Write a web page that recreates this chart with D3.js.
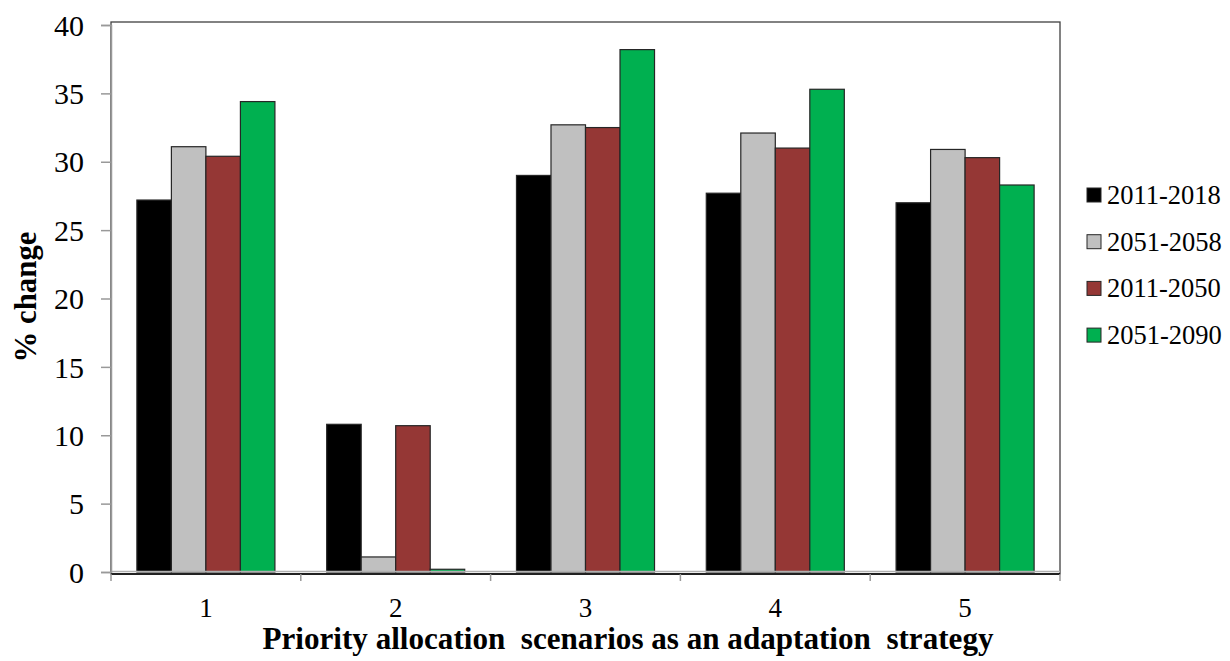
<!DOCTYPE html>
<html>
<head>
<meta charset="utf-8">
<script src="https://cdn.jsdelivr.net/npm/d3@7/dist/d3.min.js"></script>
<style>
  html, body { margin: 0; padding: 0; background: #fff; }
</style>
</head>
<body>
<svg id="chart" width="1230" height="661" font-family="'Liberation Serif', 'Times New Roman', Tinos, serif"></svg>
<script>
const SERIF = "'Liberation Serif', 'Times New Roman', Tinos, serif";

// Scenario categories and the four simulation periods
const categories = ["1", "2", "3", "4", "5"];
const periods = ["2011-2018", "2051-2058", "2011-2050", "2051-2090"];
const periodColors = ["#000000", "#c0c0c0", "#953735", "#00b050"];

// % change per scenario, one array per period
const values2011_2018 = [27.2, 10.8, 29.0, 27.7, 27.0];
const values2051_2058 = [31.1, 1.1, 32.7, 32.1, 30.9];
const values2011_2050 = [30.4, 10.7, 32.5, 31.0, 30.3];
const values2051_2090 = [34.4, 0.2, 38.2, 35.3, 28.3];
const seriesValues = [values2011_2018, values2051_2058, values2011_2050, values2051_2090];

const yTicks = [0, 5, 10, 15, 20, 25, 30, 35, 40];

const svg = d3.select("#chart");
const plot = { left: 111, right: 1060, top: 22, bottom: 574 };

const x0 = d3.scaleBand().domain(categories).range([plot.left, plot.right]).paddingInner(0).paddingOuter(0);
const x1 = d3.scaleBand().domain(periods).range([0, x0.bandwidth()]).paddingOuter(0.75).paddingInner(0);
const y = d3.scaleLinear().domain([0, 40]).range([572, 25]);

// plot frame
svg.append("rect")
  .attr("x", plot.left).attr("y", plot.top)
  .attr("width", plot.right - plot.left).attr("height", plot.bottom - plot.top)
  .attr("fill", "none").attr("stroke", "#404040").attr("stroke-width", 1.3);

// bars
const groups = svg.append("g").selectAll("g")
  .data(categories)
  .join("g")
  .attr("transform", d => `translate(${x0(d)},0)`);

groups.selectAll("rect")
  .data((c, i) => periods.map((p, k) => ({ period: p, k, value: seriesValues[k][i] })))
  .join("rect")
  .attr("x", d => x1(d.period))
  .attr("width", x1.bandwidth())
  .attr("y", d => y(d.value))
  .attr("height", d => Math.max(1.5, y(0) - y(d.value)))
  .attr("fill", d => periodColors[d.k])
  .attr("stroke", "#262626")
  .attr("stroke-width", 1.2);

// light baseline at zero and the category axis just beneath it
svg.append("line")
  .attr("x1", plot.left).attr("x2", plot.right)
  .attr("y1", y(0) - 0.5).attr("y2", y(0) - 0.5)
  .attr("stroke", "#b0b0b0").attr("stroke-width", 1.5);
svg.append("line")
  .attr("x1", plot.left).attr("x2", plot.right)
  .attr("y1", plot.bottom).attr("y2", plot.bottom)
  .attr("stroke", "#000").attr("stroke-width", 1.6);

// y axis
const yAxis = d3.axisLeft(y).tickValues(yTicks).tickSize(10).tickPadding(17).tickFormat(d3.format("d"));
const gy = svg.append("g").attr("transform", `translate(${plot.left},0)`).call(yAxis);
gy.attr("font-family", SERIF).attr("font-size", 30);
gy.select(".domain").attr("stroke", "#999").attr("stroke-width", 1.5);
gy.selectAll(".tick line").attr("stroke", "#999").attr("stroke-width", 1.5);
gy.selectAll(".tick text")
  .style("font-family", SERIF).style("font-size", "30px").attr("fill", "#000")
  .attr("dy", "0.34em");

// x axis: ticks on category boundaries, labels centred in each band
const boundaries = categories.map(c => x0(c)).concat([plot.right]);
svg.append("g").selectAll("line")
  .data(boundaries)
  .join("line")
  .attr("x1", d => d).attr("x2", d => d)
  .attr("y1", plot.bottom).attr("y2", plot.bottom + 7)
  .attr("stroke", "#999").attr("stroke-width", 1.5);
svg.append("g").selectAll("text")
  .data(categories)
  .join("text")
  .attr("x", d => x0(d) + x0.bandwidth() / 2)
  .attr("y", 617)
  .attr("text-anchor", "middle")
  .style("font-family", SERIF)
  .style("font-size", "27px")
  .text(d => d);

// axis titles, sized to their printed extent
const xTitle = svg.append("text")
  .attr("x", 628).attr("y", 649)
  .attr("text-anchor", "middle")
  .attr("xml:space", "preserve")
  .style("white-space", "pre")
  .style("font-family", SERIF)
  .style("font-size", "27px").style("font-weight", "bold")
  .text("Priority allocation  scenarios as an adaptation  strategy");
const xLen = xTitle.node().getComputedTextLength();
xTitle.style("font-size", (27 * 731 / xLen).toFixed(2) + "px");

const yTitle = svg.append("text")
  .attr("transform", "translate(36,297) rotate(-90)")
  .attr("text-anchor", "middle")
  .style("font-family", SERIF)
  .style("font-size", "27px").style("font-weight", "bold")
  .text("% change");
const yLen = yTitle.node().getComputedTextLength();
yTitle.style("font-size", (27 * 131 / yLen).toFixed(2) + "px");

// legend
const legend = svg.append("g").selectAll("g")
  .data(periods)
  .join("g")
  .attr("transform", (d, i) => `translate(1087,${195 + i * 46.7})`);
legend.append("rect")
  .attr("x", 0).attr("y", -7).attr("width", 14).attr("height", 14)
  .attr("fill", (d, i) => periodColors[i]).attr("stroke", "#262626").attr("stroke-width", 1);
legend.append("text")
  .attr("x", 20).attr("y", 9)
  .style("font-family", SERIF)
  .style("font-size", "26.5px")
  .text(d => d);
</script>
</body>
</html>
